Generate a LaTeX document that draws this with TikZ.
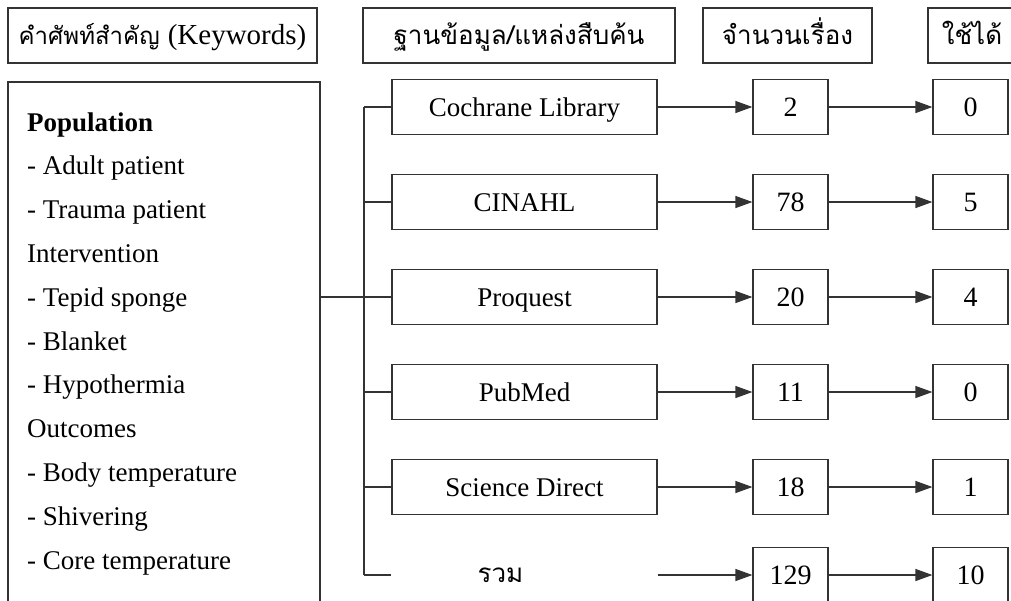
\documentclass[tikz,border=0pt]{standalone}
\usepackage{fontspec}
\setmainfont{Liberation Serif}
\newfontfamily\thai[Script=Thai]{Loma}
\usetikzlibrary{arrows.meta}
\tikzset{>={Triangle[length=17pt,width=12pt]}}
\tikzset{
  box/.style={draw=black!80, line width=1.2pt, inner sep=0pt, minimum height=55pt,
    text height=18pt, text depth=0pt},
  hdbox/.style={box, font=\thai\fontsize{26}{30}\selectfont},
  dbbox/.style={box, minimum width=265pt, font=\fontsize{27}{30}\selectfont},
  numbox/.style={box, minimum width=75pt, font=\fontsize{28}{30}\selectfont},
  kwline/.style={anchor=base west, inner sep=0pt, font=\fontsize{27}{30}\selectfont},
  link/.style={draw=black!80, line width=1.2pt},
}

\begin{document}
\begin{tikzpicture}[x=1pt, y=-1pt]
  \useasboundingbox (0,0) rectangle (1011,600);
  \clip (0,0) rectangle (1011,600);

  % headers
  \node[hdbox, minimum width=309pt] (hdkw) at (162.5,35.5)
  {\fontsize{24}{30}\selectfont คำศัพท์สำคัญ
   {\rmfamily\fontsize{29}{30}\selectfont(Keywords)}};
  \node[hdbox, minimum width=312pt] (hddb) at (519,35.5) {ฐานข้อมูล/แหล่งสืบค้น};
  \node[hdbox, minimum width=169pt] (hdcnt) at (787.5,35.5) {จำนวนเรื่อง};
  \node[hdbox, minimum width=88pt] (hduse) at (972,35.5) {ใช้ได้};

  % keywords
  \node[box, minimum width=312pt, minimum height=540pt] (kw) at (164,352) {};
  \foreach \txt [count=\i from 0] in {{\textbf{Population}}, - Adult patient,
    - Trauma patient, Intervention, - Tepid sponge, - Blanket, - Hypothermia,
    Outcomes, - Body temperature, - Shivering, - Core temperature}
    \node[kwline] (kwl\i) at (27,{131+43.8*\i}) {\txt};

  % databases
  \node[dbbox] (db1) at (524.5,107) {Cochrane Library};
  \node[dbbox] (db2) at (524.5,202) {CINAHL};
  \node[dbbox] (db3) at (524.5,297) {Proquest};
  \node[dbbox] (db4) at (524.5,392) {PubMed};
  \node[dbbox] (db5) at (524.5,487) {Science Direct};
  \node[dbbox, draw=none] (db6) at (524.5,575)
  [label={[xshift=-24pt, font=\thai\fontsize{26}{30}\selectfont]center:รวม}] {};

  \node[numbox] (cnt1) at (790.5,107) {2};
  \node[numbox] (cnt2) at (790.5,202) {78};
  \node[numbox] (cnt3) at (790.5,297) {20};
  \node[numbox] (cnt4) at (790.5,392) {11};
  \node[numbox] (cnt5) at (790.5,487) {18};
  \node[numbox] (cnt6) at (790.5,575) {129};

  \node[numbox] (use1) at (970.5,107) {0};
  \node[numbox] (use2) at (970.5,202) {5};
  \node[numbox] (use3) at (970.5,297) {4};
  \node[numbox] (use4) at (970.5,392) {0};
  \node[numbox] (use5) at (970.5,487) {1};
  \node[numbox] (use6) at (970.5,575) {10};

  % tree
  \coordinate (spine) at (364,0);
  \draw[link] (db1.west -| spine) -- (db6.west -| spine);
  \draw[link] (kw.east |- db3.west) -- (db3.west);
  \foreach \i in {1,2,4,5,6}
    \draw[link] (db\i.west -| spine) -- (db\i.west);

  \foreach \i in {1,...,6} {
    \draw[link, ->] (db\i) -- (cnt\i);
    \draw[link, ->] (cnt\i) -- (use\i);
  }
\end{tikzpicture}
\end{document}
